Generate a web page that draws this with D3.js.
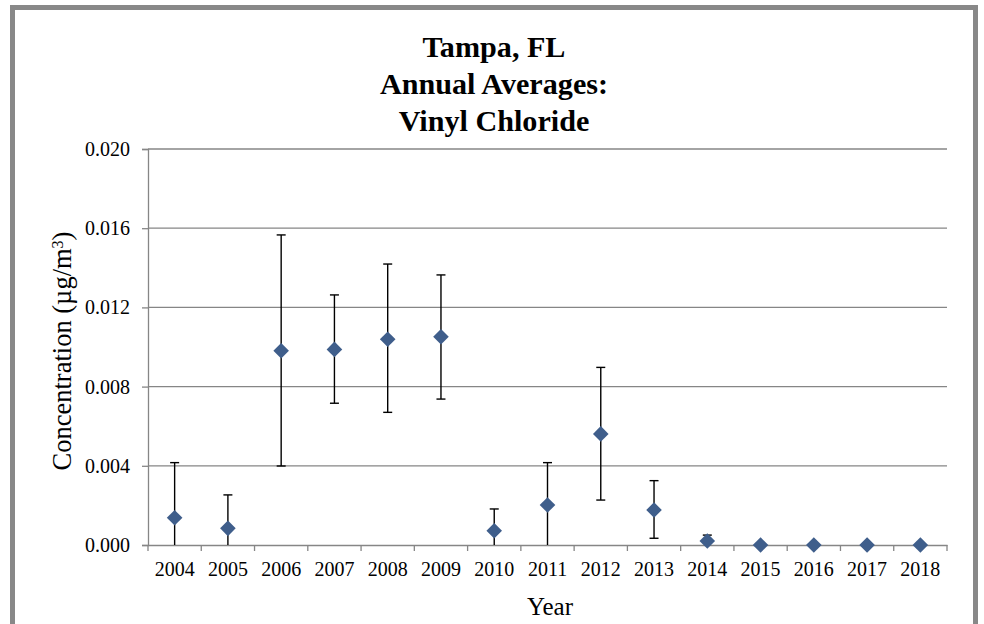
<!DOCTYPE html>
<html>
<head>
<meta charset="utf-8">
<script src="https://cdn.jsdelivr.net/npm/d3@7"></script>
<style>
  html, body { margin: 0; padding: 0; background: #fff; }
  svg text { font-family: "Liberation Serif", "Times New Roman", serif; fill: #000; }
</style>
</head>
<body>
<svg id="chart" width="984" height="624"></svg>
<script>
// ---- data ----
const years = ["2004","2005","2006","2007","2008","2009","2010","2011","2012","2013","2014","2015","2016","2017","2018"];
const averages = [0.00138, 0.00084, 0.00981, 0.00988, 0.01039, 0.01052, 0.00072, 0.00202, 0.00561, 0.00177, 0.00020, 0.0, 0.0, 0.0, 0.0];
const upperCI = [0.00416, 0.00253, 0.01566, 0.01263, 0.01419, 0.01364, 0.00182, 0.00416, 0.00897, 0.00325, 0.00050, null, null, null, null];
const lowerCI = [0.0, 0.0, 0.00399, 0.00716, 0.00670, 0.00737, 0.0, 0.0, 0.00227, 0.00034, 0.0, null, null, null, null];
const yTicks = [0.000, 0.004, 0.008, 0.012, 0.016, 0.020];
const titleLines = ["Tampa, FL", "Annual Averages:", "Vinyl Chloride"];

(function () {
const svg = d3.select("#chart");

// outer frame
svg.append("rect")
  .attr("x", 12.5).attr("y", 7.5)
  .attr("width", 963).attr("height", 620)
  .attr("fill", "#fff").attr("stroke", "#888").attr("stroke-width", 5);

const pLeft = 148, pRight = 947, pTop = 149, pBottom = 545;

const x = d3.scaleBand().domain(years).range([pLeft, pRight]).padding(0);
const y = d3.scaleLinear().domain([0, 0.020]).range([pBottom, pTop]);

// title
svg.append("g").selectAll("text").data(titleLines).join("text")
  .attr("text-anchor", "middle")
  .attr("transform", (d, i) => `translate(494,${57 + i * 37}) scale(1.04,1.05)`)
  .style("font-weight", "bold").style("font-size", "29px")
  .text(d => d);

// gridlines
svg.append("g").selectAll("line").data(yTicks.filter(t => t > 0)).join("line")
  .attr("x1", pLeft).attr("x2", pRight)
  .attr("y1", d => y(d)).attr("y2", d => y(d))
  .attr("stroke", "#868686").attr("stroke-width", 1.3);

// y axis
const yAxis = svg.append("g").attr("transform", `translate(${pLeft},0)`)
  .call(d3.axisLeft(y).tickValues(yTicks).tickFormat(d3.format(".3f")).tickSize(6).tickPadding(12));
yAxis.select(".domain").attr("stroke", "#868686").attr("stroke-width", 1.3);
yAxis.selectAll(".tick line").attr("stroke", "#868686").attr("stroke-width", 1.3);
yAxis.selectAll(".tick text").style("font-size", "20px");
yAxis.attr("font-family", null).attr("font-size", null);

// x axis
const xAxis = svg.append("g").attr("transform", `translate(0,${pBottom})`)
  .call(d3.axisBottom(x).tickSize(0).tickPadding(17));
xAxis.select(".domain").attr("stroke", "#868686").attr("stroke-width", 1.3);
xAxis.selectAll(".tick text").style("font-size", "20px");
xAxis.attr("font-family", null).attr("font-size", null);
// boundary ticks
const bounds = years.map(d => x(d)).concat([x(years[years.length - 1]) + x.bandwidth()]);
svg.append("g").selectAll("line").data(bounds).join("line")
  .attr("x1", d => d).attr("x2", d => d)
  .attr("y1", pBottom).attr("y2", pBottom + 6)
  .attr("stroke", "#868686").attr("stroke-width", 1.3);

// axis titles
const yt = svg.append("text")
  .attr("transform", `translate(71,${(pTop + pBottom) / 2 + 4}) rotate(-90)`)
  .attr("text-anchor", "middle")
  .style("font-size", "26.5px");
yt.append("tspan").text("Concentration (µg/m");
yt.append("tspan").attr("baseline-shift", "super").style("font-size", "16px").text("3");
yt.append("tspan").text(")");

svg.append("text")
  .attr("x", 550).attr("y", 615)
  .attr("text-anchor", "middle")
  .style("font-size", "25px")
  .text("Year");

// error bars
const pts = years.map((yr, i) => ({ yr, v: averages[i], hi: upperCI[i], lo: lowerCI[i] }));
const cx = d => x(d.yr) + x.bandwidth() / 2;
const eb = svg.append("g").selectAll("g").data(pts.filter(d => d.hi !== null)).join("g");
eb.append("line")
  .attr("x1", cx).attr("x2", cx)
  .attr("y1", d => y(d.hi)).attr("y2", d => y(d.lo))
  .attr("stroke", "#000").attr("stroke-width", 1.4);
eb.append("line")
  .attr("x1", d => cx(d) - 4.5).attr("x2", d => cx(d) + 4.5)
  .attr("y1", d => y(d.hi)).attr("y2", d => y(d.hi))
  .attr("stroke", "#000").attr("stroke-width", 1.4);
eb.filter(d => d.lo > 0).append("line")
  .attr("x1", d => cx(d) - 4.5).attr("x2", d => cx(d) + 4.5)
  .attr("y1", d => y(d.lo)).attr("y2", d => y(d.lo))
  .attr("stroke", "#000").attr("stroke-width", 1.4);

// markers (diamonds)
const r = 7.8;
svg.append("g").selectAll("path").data(pts).join("path")
  .attr("d", d => {
    const px = cx(d), py = y(d.v);
    return `M${px},${py - r}L${px + r},${py}L${px},${py + r}L${px - r},${py}Z`;
  })
  .attr("fill", "#3f5e8b");
})();
</script>
</body>
</html>
